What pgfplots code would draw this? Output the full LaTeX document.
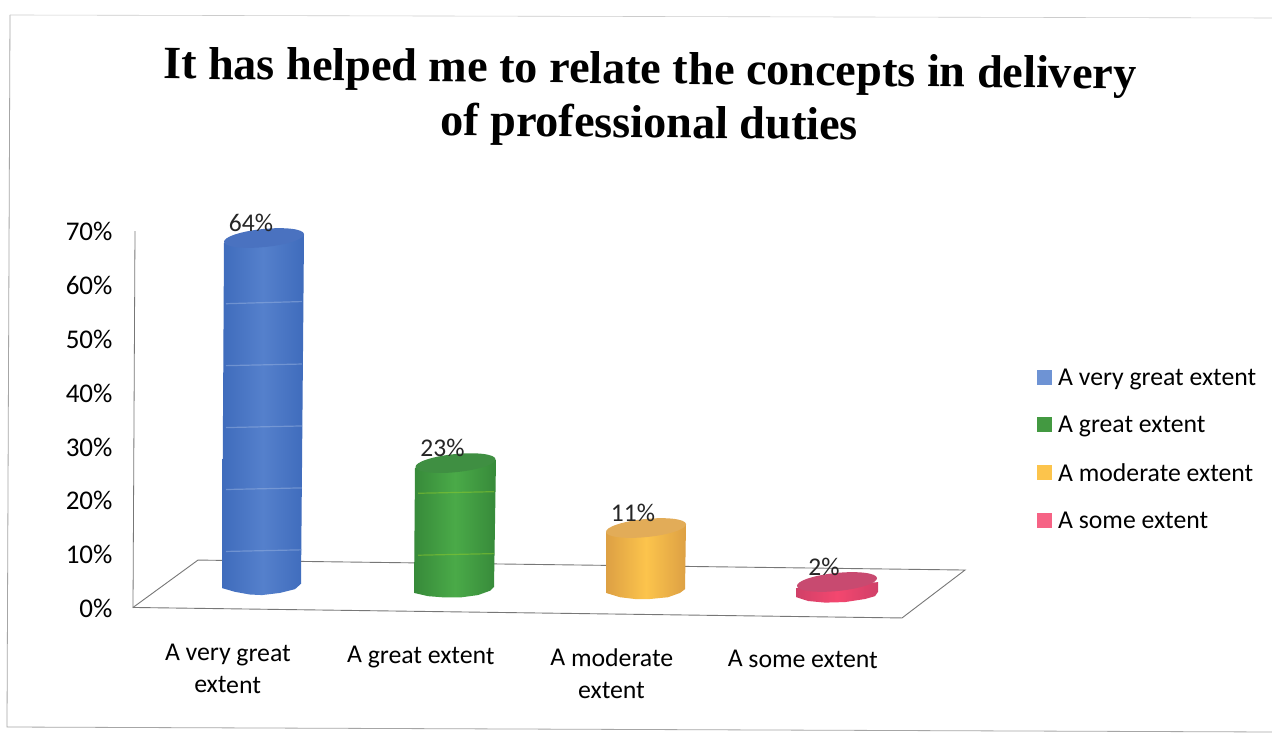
\documentclass[border=0pt]{standalone}
\usepackage{fontspec}
\setmainfont{Carlito}
\newfontfamily\titlefont{Liberation Serif}
\usepackage{pgfplots}
\pgfplotsset{compat=1.18}

\definecolor{bluetop}{HTML}{4A72C0}
\definecolor{bluemid}{HTML}{5580CC}
\definecolor{blueedge}{HTML}{3F6CBC}
\definecolor{greentop}{HTML}{3F8F42}
\definecolor{greenmid}{HTML}{4AAA48}
\definecolor{greenedge}{HTML}{378A3A}
\definecolor{orangetop}{HTML}{E2AC58}
\definecolor{orangemid}{HTML}{FCC44C}
\definecolor{orangeedge}{HTML}{DDA044}
\definecolor{redtop}{HTML}{C84A70}
\definecolor{redmid}{HTML}{F4476F}
\definecolor{rededge}{HTML}{D04068}
\definecolor{floorline}{HTML}{777777}

\pgfdeclareplotmark{cap}{%
  \pgfpathellipse{\pgfpointorigin}{\pgfqpoint{40pt}{4pt}}{\pgfqpoint{-1pt}{9pt}}%
  \pgfusepathqfill}

\begin{document}
\begin{tikzpicture}
\useasboundingbox (0,0) rectangle (1272pt,734pt);
\fill[white] (0,0) rectangle (1272pt,734pt);
\draw[gray!70,line width=0.8pt] (10pt,719pt) -- (7pt,7pt) -- (1272pt,2pt);
\draw[gray!40,line width=0.6pt] (10pt,719pt) -- (1272pt,716pt);
\begin{axis}[
    at={(135pt,126pt)}, anchor=south west,
    scale only axis,
    width=830pt, height=377pt,
    xmin=135, xmax=965,
    ymin=0, ymax=70,
    clip=false,
    axis line style={draw=none},
    major tick length=0pt,
    ytick={0,10,20,30,40,50,60,70},
    yticklabel={\pgfmathprintnumber{\tick}\%},
    yticklabel style={/pgf/number format/assume math mode=true, font=\fontsize{27}{30}\selectfont, anchor=east, xshift=-19pt, yshift=-0.5pt},
    xtick={228,421,612,803},
    xticklabels={{A very great\\extent},{\rule{0pt}{19pt}A great extent},{\rule{0pt}{22pt}A moderate\\extent},{\rule{0pt}{23pt}A some extent}},
    xticklabel style={align=center, anchor=north, font=\fontsize{25.7}{32}\selectfont, yshift=-33pt, rotate=-0.5},
    title style={at={(axis cs:649,70)}, anchor=south, align=center, yshift=74pt, rotate=-0.6, font=\fontsize{46.2}{54}\selectfont\titlefont\bfseries},
    title={It has helped me to relate the concepts in delivery\\of professional duties},
    legend style={at={(axis cs:1037,44.7)}, anchor=north west, draw=none, fill=none, inner sep=0pt, font=\fontsize{25.7}{30}\selectfont, row sep=25pt, /tikz/column 1/.style={column sep=4pt}},
    legend cell align=left,
    legend image code/.code={\fill[#1] (0pt,-7pt) rectangle (15pt,8pt);},
]
\addlegendimage{fill=bluemid!85!white,draw=none}
\addlegendentry{A very great extent}
\addlegendimage{fill=greenmid!90!black,draw=none}
\addlegendentry{A great extent}
\addlegendimage{fill=orangemid,draw=none}
\addlegendentry{A moderate extent}
\addlegendimage{fill=redmid!85!white,draw=none}
\addlegendentry{A some extent}

% axis wall and floor
\addplot[floorline, line width=0.8pt, forget plot] coordinates {(135,70) (133,0)};
\addplot[floorline, line width=0.9pt, forget plot] coordinates {
    (133,0.1) (198,8.9) (965,7.05) (902,-1.85) (133,0.1)
};

% blue cylinder
\addplot[draw=none, left color=blueedge, right color=blueedge, middle color=bluemid, forget plot] coordinates {
    (224,67.8) (222,3.7) (235,3.0) (250,2.5) (262,2.4) (280,2.8) (295,3.5) (301,4.5) (304,69.3)
} -- cycle;
\addplot[bluemid!60!white, opacity=0.5, line width=1.2pt, forget plot] coordinates {(226,56.5) (302,56.9)};
\addplot[bluemid!60!white, opacity=0.5, line width=1.2pt, forget plot] coordinates {(226,45.0) (302,45.3)};
\addplot[bluemid!60!white, opacity=0.5, line width=1.2pt, forget plot] coordinates {(226,33.5) (302,33.8)};
\addplot[bluemid!60!white, opacity=0.5, line width=1.2pt, forget plot] coordinates {(226,22.0) (302,22.3)};
\addplot[bluemid!60!white, opacity=0.5, line width=1.2pt, forget plot] coordinates {(226,10.5) (302,10.8)};

% green cylinder
\addplot[draw=none, left color=greenedge, right color=greenedge, middle color=greenmid, forget plot] coordinates {
    (415,26.0) (414,2.8) (428,2.2) (445,1.95) (460,1.95) (478,2.4) (490,3.2) (494,3.9) (496,27.5)
} -- cycle;
\addplot[greenmid!60!yellow, opacity=0.5, line width=1.2pt, forget plot] coordinates {(418,21.3) (494,21.6)};
\addplot[greenmid!60!yellow, opacity=0.5, line width=1.2pt, forget plot] coordinates {(418,9.8) (494,10.1)};

% orange cylinder
\addplot[draw=none, left color=orangeedge, right color=orangeedge, middle color=orangemid, forget plot] coordinates {
    (606,14.1) (606,2.8) (620,2.0) (635,1.67) (650,1.67) (668,2.0) (680,2.8) (685,3.5) (686,15.6)
} -- cycle;

% red cylinder
\addplot[draw=none, left color=rededge, right color=rededge, middle color=redmid, forget plot] coordinates {
    (796,3.7) (796,2.04) (808,1.3) (825,1.0) (845,1.1) (865,1.67) (875,2.2) (878,3.0) (878,4.8)
} -- cycle;

% cylinder tops with their value labels
\pgfplotsset{every node near coord/.append style={font=\fontsize{25.5}{28}\selectfont, anchor=center, xshift=-13pt, yshift=15.5pt, text=black!85}}
\addplot[only marks, mark=cap, mark options={fill=bluetop}, nodes near coords, point meta=explicit symbolic, forget plot] coordinates {(264,68.7)[64\%]};
\addplot[only marks, mark=cap, mark options={fill=greentop}, nodes near coords, point meta=explicit symbolic, forget plot] coordinates {(455.5,26.9)[23\%]};
\addplot[only marks, mark=cap, mark options={fill=orangetop}, nodes near coords, point meta=explicit symbolic, forget plot] coordinates {(646,14.85)[11\%]};
\addplot[only marks, mark=cap, mark options={fill=redtop}, nodes near coords, point meta=explicit symbolic, forget plot] coordinates {(837,4.83)[2\%]};
\end{axis}
\end{tikzpicture}
\end{document}
